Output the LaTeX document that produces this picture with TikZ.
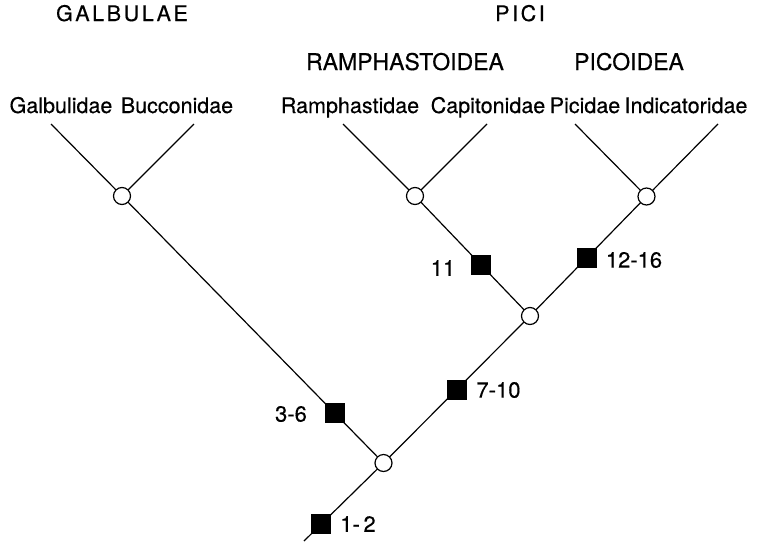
\documentclass[tikz,border=0pt]{standalone}
\usepackage{fontspec}
\setmainfont[FakeBold=0.4]{TeX Gyre Heros}
\usetikzlibrary{calc}
\newcommand{\spacedtext}[1]{\fontsize{21.5}{24}\selectfont\addfontfeature{LetterSpace=12}#1}
\begin{document}
\begin{tikzpicture}[x=1pt,y=-1pt,
  branch/.style={line width=1.2pt},
  fork/.style={circle,draw,fill=white,line width=1.2pt,minimum size=17pt,inner sep=0pt},
  apo/.style={rectangle,fill=black,minimum size=20pt,inner sep=0pt},
  taxon/.style={font=\fontsize{21.5}{24}\selectfont,anchor=base,inner sep=0pt},
  group/.style={font=\fontsize{23}{26}\selectfont,anchor=base,inner sep=0pt},
  order/.style={anchor=base,inner sep=0pt},
  lab/.style={font=\fontsize{22}{24}\selectfont,inner sep=0pt},
]
\useasboundingbox (0,0) rectangle (760,544);

% group labels
\node[order] (galbulae) at (122,21) {\spacedtext{GALBULAE}};
\node[order] (pici) at (520,21) {\spacedtext{PICI}};
\node[group] (ramphastoidea) at (405,70) {RAMPHASTOIDEA};
\node[group] (picoidea) at (629,70) {PICOIDEA};

% taxon labels
\node[taxon] (galbulidae) at (61,113) {Galbulidae};
\node[taxon] (bucconidae) at (177,113) {Bucconidae};
\node[taxon] (ramphastidae) at (350,113) {Ramphastidae};
\node[taxon] (capitonidae) at (488,113) {Capitonidae};
\node[taxon] (picidae) at (585,113) {Picidae};
\node[taxon] (indicatoridae) at (686,113) {Indicatoridae};

% line tops
\coordinate (t1) at (51,124);
\coordinate (t2) at (194,124);
\coordinate (t3) at (343,124);
\coordinate (t4) at (487,124);
\coordinate (t5) at (575,124);
\coordinate (t6) at (718,124);
\coordinate (base) at (304,541);

% fork nodes
\coordinate (g) at (122,196);
\coordinate (r) at (415,196);
\coordinate (p) at (646.5,196.5);
\coordinate (pi) at (530,316);
\coordinate (root) at (383.5,463);

% branches
\draw[branch] (t1) -- (g) -- (t2);
\draw[branch] (t3) -- (r) -- (t4);
\draw[branch] (t5) -- (p) -- (t6);
\draw[branch] (r) -- (pi) -- (p);
\draw[branch] (g) -- (root) -- (pi);
\draw[branch] (root) -- (base);

% circles
\node[fork] (gn) at (g) {};
\node[fork] (rn) at (r) {};
\node[fork] (pn) at (p) {};
\node[fork] (pin) at (pi) {};
\node[fork] (rootn) at (root) {};

% apomorphy squares
\node[apo] (s12) at ($(root)!0.78!(base)$) {};
\node[apo] (s36) at ($(root)!0.187!(g)$) {};
\node[apo] (s710) at ($(root)!0.5!(pi)$) {};
\node[apo] (s11) at ($(pi)!0.425!(r)$) {};
\node[apo] (s1216) at ($(pi)!0.485!(p)$) {};

% labels
\node[lab] (l12) at (358,524) {1-\,2};
\node[lab] (l36) at (291,414) {3-6};
\node[lab] (l710) at (498.5,390) {7-10};
\node[lab] (l11) at (443,268) {11};
\node[lab] (l1216) at (634,260) {12-16};
\end{tikzpicture}
\end{document}
